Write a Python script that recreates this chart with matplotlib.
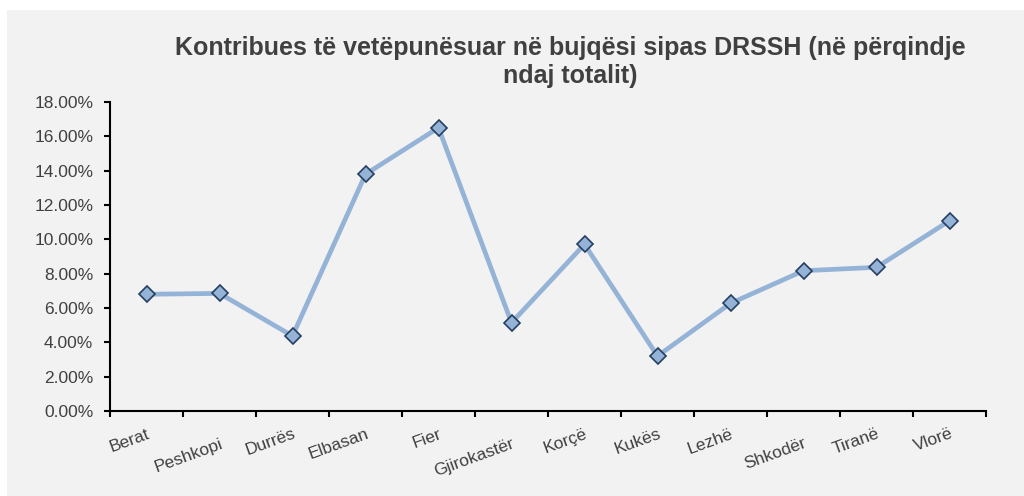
import numpy as np
import matplotlib
matplotlib.use('Agg')
import matplotlib.pyplot as plt
from matplotlib.patches import Rectangle
from matplotlib.transforms import ScaledTranslation
from matplotlib.ticker import FuncFormatter

plt.rcParams['font.family'] = ['Liberation Sans', 'DejaVu Sans']

regions = ['Berat', 'Peshkopi', 'Durrës', 'Elbasan', 'Fier', 'Gjirokastër',
           'Korçë', 'Kukës', 'Lezhë', 'Shkodër', 'Tiranë', 'Vlorë']
share = [6.80, 6.85, 4.37, 13.79, 16.50, 5.14, 9.71, 3.20, 6.27, 8.17, 8.37, 11.08]
title = 'Kontribues të vetëpunësuar në bujqësi sipas DRSSH (në përqindje\nndaj totalit)'

fig = plt.figure(figsize=(10.24, 4.96), dpi=100)
fig.patch.set_facecolor('white')
fig.patches.append(Rectangle((7 / 1024, 0), 1, 1 - 10 / 496, transform=fig.transFigure,
                             facecolor='#F2F2F2', edgecolor='none', zorder=-10))

ax = fig.add_axes([110 / 1024, 1 - 411 / 496, 876 / 1024, 309 / 496])
ax.set_facecolor('none')

x = np.arange(len(regions)) + 0.5
ax.plot(x, share, color='#95B3D7', linewidth=3.4, marker='D', markersize=8,
        markerfacecolor='#95B3D7', markeredgecolor='#243F60', markeredgewidth=1.2,
        solid_joinstyle='round', zorder=3, clip_on=False)

ax.set_xlim(0, len(regions))
ax.set_ylim(0, 18)
ax.set_yticks(np.arange(0, 19, 2))
ax.yaxis.set_major_formatter(FuncFormatter(lambda v, p: f'{v:.2f}%'))

ax.set_xticks(np.arange(len(regions) + 1))
ax.set_xticklabels([])
ax.set_xticks(x, minor=True)
ax.set_xticklabels(regions, minor=True, rotation=20, ha='right',
                   rotation_mode='anchor', fontsize=12.5, color='#404040')
ax.tick_params(axis='x', which='minor', length=0, pad=11)
ax.tick_params(axis='both', which='major', direction='out', length=4, width=1.5,
               color='black', labelsize=12.5, labelcolor='#404040', pad=8)

# staggered labels, as in the original
offset = ScaledTranslation(0, -7 / 72, fig.dpi_scale_trans)
for i, lab in enumerate(ax.xaxis.get_minorticklabels()):
    if regions[i] in ('Peshkopi', 'Gjirokastër', 'Shkodër'):
        lab.set_transform(lab.get_transform() + offset)

for s in ('top', 'right'):
    ax.spines[s].set_visible(False)
for s in ('left', 'bottom'):
    ax.spines[s].set_linewidth(1.5)
    ax.spines[s].set_color('black')

fig.text(0.557, 1 - 62 / 496, title, ha='center', va='center', fontsize=18,
         fontweight='bold', color='#404040', linespacing=1.2)

fig.savefig('out.png', dpi=100)
